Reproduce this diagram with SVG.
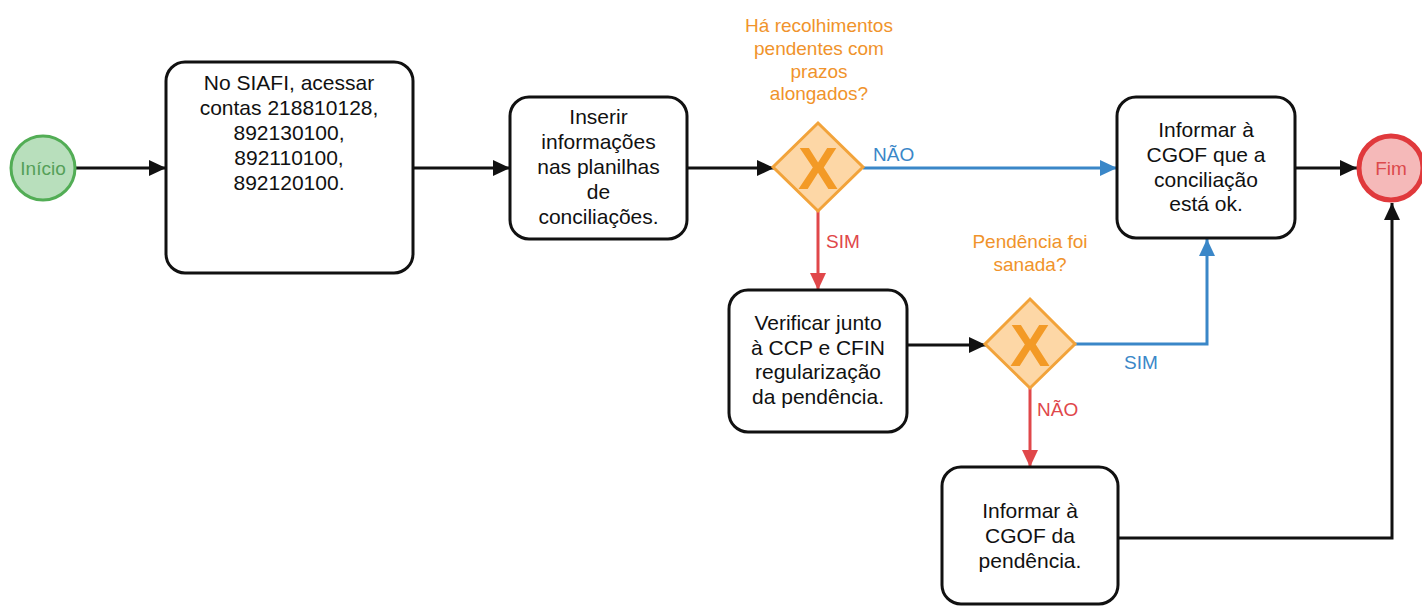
<svg xmlns="http://www.w3.org/2000/svg" width="1422" height="606" viewBox="0 0 1422 606">
  <style>
    .task { fill: #ffffff; stroke: #111111; stroke-width: 3; }
    .txt { font-family: "Liberation Sans", Arial, sans-serif; font-size: 21px; fill: #111111; text-anchor: middle; }
    .q { font-family: "Liberation Sans", Arial, sans-serif; font-size: 19px; fill: #f0932b; text-anchor: middle; }
    .lbl { font-family: "Liberation Sans", Arial, sans-serif; font-size: 19px; }
    .gw { fill: #fdd7a6; stroke: #f2a33a; stroke-width: 3; }
    .gwx { font-family: "Liberation Sans", Arial, sans-serif; font-size: 60px; font-weight: bold; fill: #f39a26; text-anchor: middle; }
    .ev { font-family: "Liberation Sans", Arial, sans-serif; font-size: 19px; text-anchor: middle; }
    .c-black { fill: none; stroke: #111111; stroke-width: 3; }
    .c-blue { fill: none; stroke: #3a87c8; stroke-width: 3; }
    .c-red { fill: none; stroke: #e0474a; stroke-width: 3; }
  </style>
  <defs>
    <marker id="arrBlack" markerUnits="userSpaceOnUse" markerWidth="18" markerHeight="18" refX="17" refY="9" orient="auto">
      <path d="M0,1 L17,9 L0,17 Z" fill="#111111"/>
    </marker>
    <marker id="arrBlue" markerUnits="userSpaceOnUse" markerWidth="18" markerHeight="18" refX="17" refY="9" orient="auto">
      <path d="M0,1 L17,9 L0,17 Z" fill="#3a87c8"/>
    </marker>
    <marker id="arrRed" markerUnits="userSpaceOnUse" markerWidth="18" markerHeight="18" refX="17" refY="9" orient="auto">
      <path d="M0,1 L17,9 L0,17 Z" fill="#e0474a"/>
    </marker>
  </defs>

  <rect width="1422" height="606" fill="#ffffff"/>

  <!-- connectors -->
  <g id="connectors">
    <path class="c-black" d="M76,168 L166,168" marker-end="url(#arrBlack)"/>
    <path class="c-black" d="M413,168 L510,168" marker-end="url(#arrBlack)"/>
    <path class="c-black" d="M687,168 L774,168" marker-end="url(#arrBlack)"/>
    <path class="c-blue" d="M863,168 L1117,168" marker-end="url(#arrBlue)"/>
    <text class="lbl" x="873" y="161" fill="#3a87c8">NÃO</text>
    <path class="c-black" d="M1295,168 L1357,168" marker-end="url(#arrBlack)"/>
    <path class="c-red" d="M818,211 L818,290" marker-end="url(#arrRed)"/>
    <text class="lbl" x="826" y="248" fill="#e0474a">SIM</text>
    <path class="c-black" d="M907,345 L986,345" marker-end="url(#arrBlack)"/>
    <path class="c-blue" d="M1075,344 L1207,344 L1207,239" marker-end="url(#arrBlue)"/>
    <text class="lbl" x="1124" y="369" fill="#3a87c8">SIM</text>
    <path class="c-red" d="M1030,388 L1030,467" marker-end="url(#arrRed)"/>
    <text class="lbl" x="1037" y="416" fill="#e0474a">NÃO</text>
    <path class="c-black" d="M1118,538 L1392,538 L1392,203" marker-end="url(#arrBlack)"/>
  </g>

  <!-- start event -->
  <g id="inicio">
    <circle cx="43" cy="168" r="32" fill="#b8dfbc" stroke="#52ad55" stroke-width="3"/>
    <text class="ev" x="43" y="175" fill="#55a058">Início</text>
  </g>

  <!-- access accounts in SIAFI -->
  <g id="acessar-siafi">
    <rect class="task" x="166" y="62" width="247" height="211" rx="19"/>
    <text class="txt" x="289" y="90">No SIAFI, acessar</text>
    <text class="txt" x="289" y="115">contas 218810128,</text>
    <text class="txt" x="289" y="140">892130100,</text>
    <text class="txt" x="289" y="165">892110100,</text>
    <text class="txt" x="289" y="190">892120100.</text>
  </g>

  <!-- fill in reconciliation sheets -->
  <g id="inserir-informacoes">
    <rect class="task" x="510" y="97" width="177" height="142" rx="19"/>
    <text class="txt" x="598.5" y="124">Inserir</text>
    <text class="txt" x="598.5" y="149">informações</text>
    <text class="txt" x="598.5" y="174">nas planilhas</text>
    <text class="txt" x="598.5" y="199">de</text>
    <text class="txt" x="598.5" y="224">conciliações.</text>
  </g>

  <!-- gateway: pending items with extended deadlines -->
  <g id="gw-recolhimentos">
    <text class="q" x="819" y="32">Há recolhimentos</text>
    <text class="q" x="819" y="55">pendentes com</text>
    <text class="q" x="819" y="78">prazos</text>
    <text class="q" x="819" y="100">alongados?</text>
    <path class="gw" d="M818,123 L863,167 L818,211 L773,167 Z"/>
    <text class="gwx" x="818" y="189">X</text>
  </g>

  <!-- inform reconciliation ok -->
  <g id="informar-ok">
    <rect class="task" x="1117" y="97" width="178" height="141" rx="19"/>
    <text class="txt" x="1206" y="137">Informar à</text>
    <text class="txt" x="1206" y="162">CGOF que a</text>
    <text class="txt" x="1206" y="187">conciliação</text>
    <text class="txt" x="1206" y="211">está ok.</text>
  </g>

  <!-- end event -->
  <g id="fim">
    <circle cx="1391" cy="168" r="32" fill="#f5b9b9" stroke="#e0393c" stroke-width="5"/>
    <text class="ev" x="1391" y="175" fill="#dc4a4c">Fim</text>
  </g>

  <!-- check with CCP and CFIN -->
  <g id="verificar">
    <rect class="task" x="729" y="290" width="178" height="142" rx="19"/>
    <text class="txt" x="818" y="330">Verificar junto</text>
    <text class="txt" x="818" y="355">à CCP e CFIN</text>
    <text class="txt" x="818" y="379">regularização</text>
    <text class="txt" x="818" y="404">da pendência.</text>
  </g>

  <!-- gateway: was the issue resolved -->
  <g id="gw-sanada">
    <text class="q" x="1030" y="248">Pendência foi</text>
    <text class="q" x="1030" y="271">sanada?</text>
    <path class="gw" d="M1030,299 L1075,344 L1030,388 L985,344 Z"/>
    <text class="gwx" x="1030" y="366">X</text>
  </g>

  <!-- inform pending issue -->
  <g id="informar-pendencia">
    <rect class="task" x="942" y="467" width="176" height="137" rx="19"/>
    <text class="txt" x="1030" y="518">Informar à</text>
    <text class="txt" x="1030" y="543">CGOF da</text>
    <text class="txt" x="1030" y="568">pendência.</text>
  </g>
</svg>
